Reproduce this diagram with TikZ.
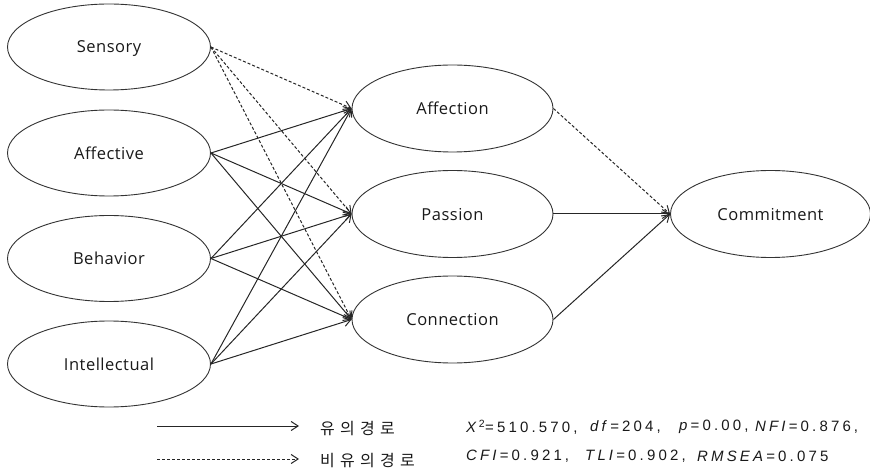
\documentclass[tikz,border=0pt]{standalone}
\usepackage{fontspec}
\setmainfont{Open Sans}[LetterSpace=3]
\newfontfamily\krfont{Noto Sans CJK KR}[LetterSpace=33]
\newfontfamily\stfont{Liberation Sans}[LetterSpace=21]
\usetikzlibrary{arrows.meta,shapes.geometric}
\begin{document}
\begin{tikzpicture}[x=1pt,y=-1pt,
  latent/.style={draw=black!80, line width=0.9pt, ellipse, minimum width=203pt, minimum height=86pt, inner sep=0pt, text depth=0pt, font=\fontsize{16.5}{19}\selectfont, text=black!90},
  sig/.style={draw=black!85, line width=1pt, -{Straight Barb[length=7pt,width=9pt]}},
  nsig/.style={sig, dash pattern=on 3pt off 2pt},
  lbl/.style={anchor=west, inner sep=0pt},
  stat/.style={anchor=west, inner sep=0pt, font=\stfont\fontsize{15}{17}\selectfont, text=black!90}
]
\useasboundingbox (0,0) rectangle (870,470);
% exogenous
\node[latent] (sen) at (109,47) {Sensory};
\node[latent] (aff) at (109,153) {Affective};
\node[latent] (beh) at (109,258.5) {Behavior};
\node[latent] (int) at (109,364) {Intellectual};
% mediators
\node[latent, minimum width=201pt, minimum height=87pt] (affn) at (452.5,108.5) {Affection};
\node[latent, minimum width=201pt, minimum height=87pt] (pas) at (452.5,214) {Passion};
\node[latent, minimum width=201pt, minimum height=87pt] (con) at (452.5,319.5) {Connection};
% outcome
\node[latent, minimum width=200pt, minimum height=87pt] (com) at (770.5,214) {Commitment};
% paths
\foreach \t in {affn,pas,con}{
  \draw[nsig] (sen.east) -- (\t.west);
  \draw[sig] (aff.east) -- (\t.west);
  \draw[sig] (beh.east) -- (\t.west);
  \draw[sig] (int.east) -- (\t.west);
}
\draw[nsig] (affn.east) -- (com.west);
\draw[sig] (pas.east) -- (com.west);
\draw[sig] (con.east) -- (com.west);
% legend
\coordinate (l1a) at (157,426);
\coordinate (l1b) at (299,426);
\coordinate (l2a) at (157,459);
\coordinate (l2b) at (299,459);
\draw[sig] (l1a) -- (l1b);
\draw[nsig] (l2a) -- (l2b);
\node[lbl, font=\krfont\fontsize{16}{19}\selectfont, text=black!90] (k1) at (320,429) {유의경로};
\node[lbl, font=\krfont\fontsize{16}{19}\selectfont, text=black!90] (k2) at (320,461) {비유의경로};
\node[stat] (s1) at (466,427) {\itshape X\/\kern-1pt\textsuperscript{\upshape 2}\upshape =510.570,};
\node[stat] (s2) at (590,427) {\itshape df\/\upshape =204,};
\node[stat] (s3) at (679,427) {\itshape p\/\upshape =0.00,};
\node[stat] (s4) at (755,427) {\itshape NFI\/\upshape =0.876,};
\node[stat] (s5) at (466,456) {\itshape CFI\/\upshape =0.921,};
\node[stat] (s6) at (585,456) {\itshape TLI\/\upshape =0.902,};
\node[stat] (s7) at (697,456) {\itshape RMSEA\/\upshape =0.075};
\end{tikzpicture}
\end{document}
